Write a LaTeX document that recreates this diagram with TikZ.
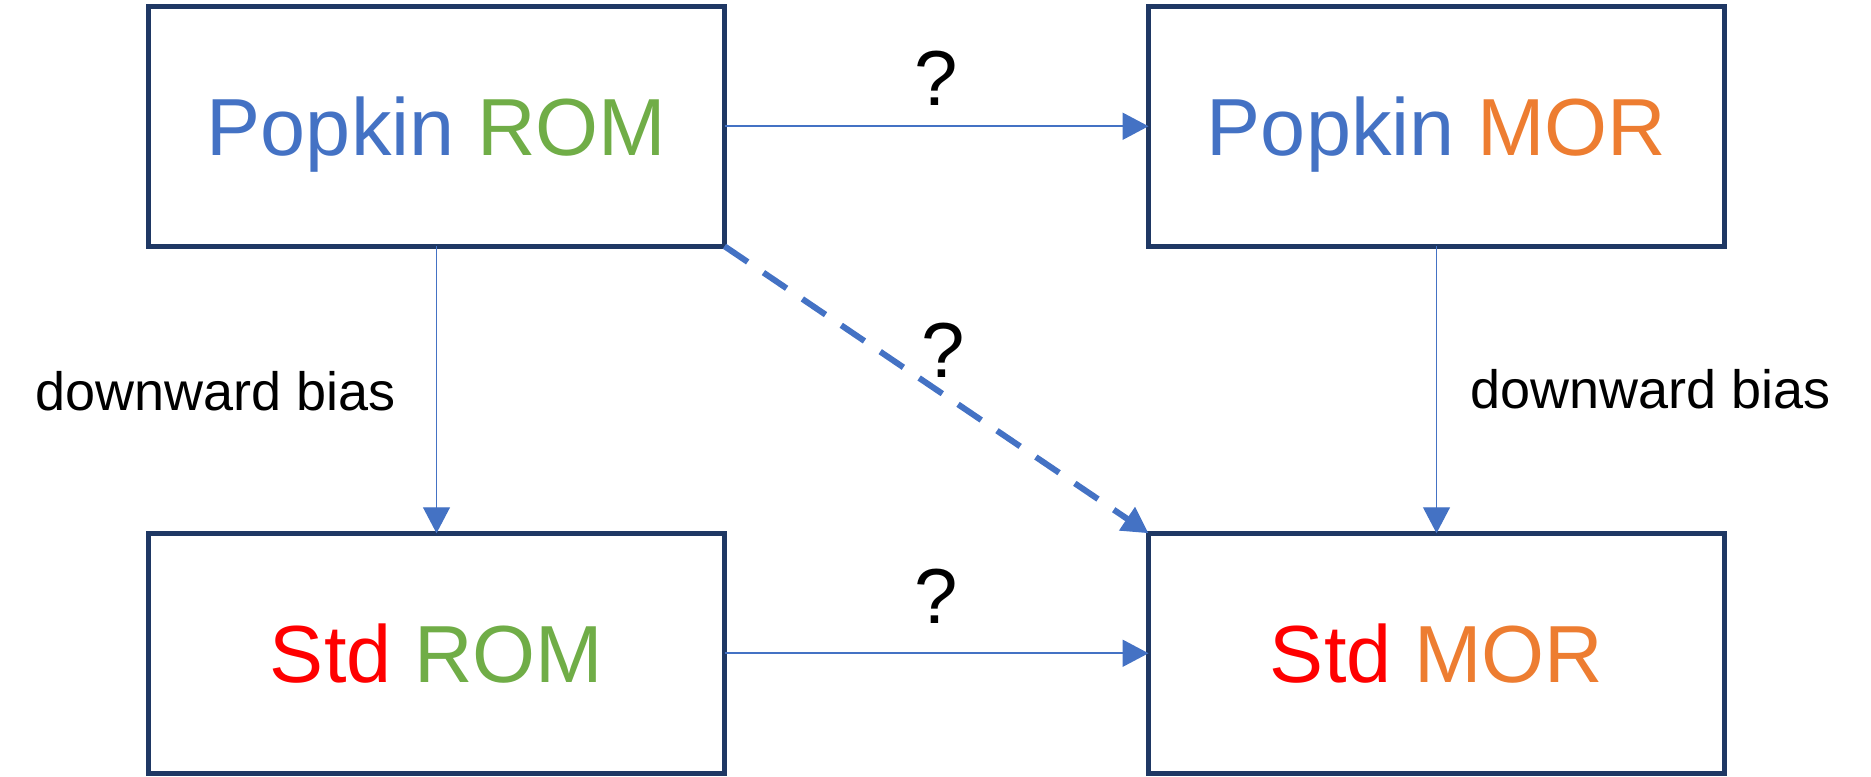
\documentclass[tikz,border=0pt]{standalone}
\usepackage{fontspec}
\setmainfont{Liberation Sans}
\usetikzlibrary{arrows.meta}
\definecolor{navy}{HTML}{1F3864}
\definecolor{pblue}{HTML}{4472C4}
\definecolor{pgreen}{HTML}{70AD47}
\definecolor{porange}{HTML}{ED7D31}
\definecolor{pred}{HTML}{FF0000}
\begin{document}
\begin{tikzpicture}[x=0.5pt,y=-0.5pt,
  box/.style={draw=navy, line width=2.5pt, minimum width=288pt, minimum height=120pt,
    outer sep=0pt, inner sep=0pt, font=\fontsize{40.5}{48}\selectfont,
    text height=29pt, text depth=0pt},
  conn/.style={draw=pblue, -{Triangle[length=13pt,width=13.5pt]}},
  lbl/.style={font=\fontsize{27}{32}\selectfont, anchor=base, inner sep=0pt},
  qm/.style={font=\fontsize{39}{46}\selectfont, anchor=base, inner sep=0pt}]
\useasboundingbox (0,0) rectangle (1871,776);
\node[box] (pr) at (436.5,126.25) {\textcolor{pblue}{Popkin} \textcolor{pgreen}{ROM}};
\node[box] (pm) at (1436.5,126.25) {\textcolor{pblue}{Popkin} \textcolor{porange}{MOR}};
\node[box] (sr) at (436.5,653.25) {\textcolor{pred}{Std} \textcolor{pgreen}{ROM}};
\node[box] (sm) at (1436.5,653.25) {\textcolor{pred}{Std} \textcolor{porange}{MOR}};
\draw[conn, line width=1pt] (pr.east) -- (pm.west);
\draw[conn, line width=1pt] (sr.east) -- (sm.west);
\draw[conn, line width=0.65pt] (pr.south) -- (sr.north);
\draw[conn, line width=0.65pt] (pm.south) -- (sm.north);
\draw[conn, line width=3pt, dash pattern=on 14pt off 9.5pt] (pr.south east) -- (sm.north west);
\node[lbl] (l1) at (216,410) {downward bias};
\node[lbl] (l2) at (1651,408) {downward bias};
\node[qm] (q1) at (936,105) {?};
\node[qm] (q2) at (943,377) {?};
\node[qm] (q3) at (936,623) {?};
\end{tikzpicture}
\end{document}
